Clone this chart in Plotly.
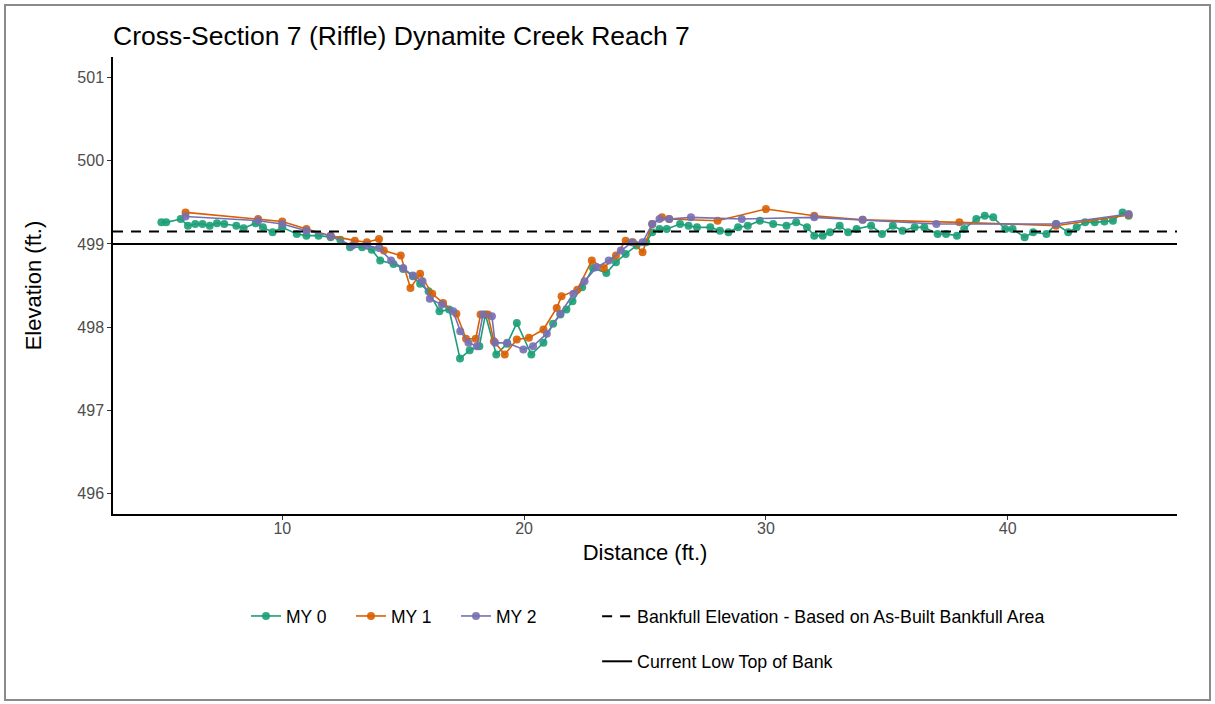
import plotly.graph_objects as go

# ---------------- data ----------------
my0_x = [5.0, 5.2, 5.8, 6.1, 6.4, 6.7, 7.0, 7.3, 7.6, 8.1, 8.4, 8.9, 9.2, 9.6, 10.0, 10.6,
         11.0, 11.5, 12.0, 12.4, 12.8, 13.3, 13.7, 14.05, 14.6, 15.0, 15.4, 15.7, 16.05, 16.5,
         16.9, 17.35, 17.75, 18.15, 18.4, 18.85, 19.3, 19.7, 20.3, 20.8, 21.2, 21.5, 21.75, 22.0,
         22.4, 22.85, 23.4, 23.8, 24.2, 24.65, 25.05, 25.3, 25.6, 25.9, 26.45, 26.8, 27.15, 27.7,
         28.1, 28.45, 28.85, 29.25, 29.75, 30.3, 30.85, 31.25, 31.7, 32.0, 32.35, 32.65, 33.05,
         33.4, 33.75, 34.35, 34.8, 35.25, 35.65, 36.15, 36.55, 37.1, 37.45, 37.9, 38.2, 38.7,
         39.05, 39.4, 39.9, 40.2, 40.7, 41.05, 41.6, 42.0, 42.5, 42.85, 43.2, 43.6, 44.0, 44.35,
         44.75, 45.0]
my0_y = [499.26, 499.26, 499.30, 499.22, 499.24, 499.24, 499.22, 499.25, 499.24, 499.22, 499.19,
         499.25, 499.20, 499.14, 499.20, 499.12, 499.10, 499.10, 499.08, 499.05, 498.96, 498.96,
         498.93, 498.80, 498.76, 498.70, 498.61, 498.52, 498.43, 498.19, 498.21, 497.62, 497.72,
         497.77, 498.15, 497.67, 497.80, 498.05, 497.67, 497.81, 498.04, 498.15, 498.21, 498.31,
         498.48, 498.71, 498.65, 498.78, 498.88, 498.98, 499.02, 499.14, 499.18, 499.18, 499.24,
         499.22, 499.20, 499.20, 499.16, 499.14, 499.20, 499.22, 499.28, 499.24, 499.22, 499.26,
         499.20, 499.10, 499.10, 499.14, 499.22, 499.14, 499.18, 499.22, 499.12, 499.22, 499.16,
         499.20, 499.20, 499.12, 499.12, 499.10, 499.18, 499.30, 499.34, 499.32, 499.18, 499.18,
         499.08, 499.14, 499.12, 499.24, 499.14, 499.20, 499.26, 499.26, 499.27, 499.28, 499.38,
         499.34]

my1_x = [6.0, 9.0, 10.0, 11.0, 12.0, 13.0, 13.5, 14.0, 14.2, 14.9, 15.3, 15.7, 16.2, 16.65,
         17.2, 17.6, 18.0, 18.2, 18.5, 18.75, 19.2, 19.7, 20.2, 20.8, 21.35, 21.55, 22.2, 22.8,
         23.3, 23.8, 24.2, 24.5, 24.9, 25.3, 25.7, 26.0, 28.0, 30.0, 32.0, 34.0, 38.0, 42.0, 45.0]
my1_y = [499.38, 499.30, 499.27, 499.18, 499.10, 499.04, 499.02, 499.06, 498.92, 498.86, 498.47,
         498.64, 498.40, 498.29, 498.16, 497.86, 497.86, 498.15, 498.15, 497.83, 497.67, 497.85,
         497.87, 497.97, 498.23, 498.37, 498.45, 498.80, 498.71, 498.86, 499.04, 499.02, 498.90,
         499.24, 499.32, 499.30, 499.28, 499.42, 499.34, 499.29, 499.26, 499.22, 499.35]

my2_x = [6.0, 9.0, 10.0, 11.0, 12.0, 12.9, 13.5, 14.0, 14.5, 15.0, 15.4, 15.8, 16.1, 16.6,
         17.07, 17.36, 17.7, 18.05, 18.3, 18.67, 18.8, 19.3, 19.97, 20.37, 20.94, 21.5, 22.04,
         22.5, 23.0, 23.5, 24.0, 24.45, 24.9, 25.3, 25.6, 26.0, 26.9, 29.0, 32.0, 34.0, 37.05,
         42.0, 45.0]
my2_y = [499.33, 499.28, 499.24, 499.16, 499.10, 498.98, 498.98, 498.95, 498.80, 498.71, 498.62,
         498.55, 498.34, 498.27, 498.19, 497.95, 497.81, 497.77, 498.15, 498.13, 497.81, 497.81,
         497.73, 497.77, 497.92, 498.16, 498.40, 498.55, 498.72, 498.80, 498.92, 499.02, 499.02,
         499.24, 499.30, 499.30, 499.32, 499.30, 499.32, 499.29, 499.24, 499.24, 499.36]

bankfull_elev = 499.15
low_top_bank = 499.0

series_names = ["MY 0", "MY 1", "MY 2"]
series_colors = ["#1B9E77", "#D95F02", "#7570B3"]

x_range = [3.0, 47.0]
y_range = [495.75, 501.25]
x_ticks = [10, 20, 30, 40]
y_ticks = [496, 497, 498, 499, 500, 501]

FONT = "Liberation Sans, Arial, Helvetica, sans-serif"

# ---------------- figure ----------------
fig = go.Figure()

for name, xs, ys, col in zip(series_names, [my0_x, my1_x, my2_x], [my0_y, my1_y, my2_y], series_colors):
    fig.add_trace(go.Scatter(
        x=xs, y=ys, name=name, mode="lines+markers",
        line=dict(color=col, width=1.6),
        marker=dict(color=col, size=8, opacity=0.9),
        legend="legend",
    ))

fig.add_trace(go.Scatter(
    x=x_range, y=[bankfull_elev, bankfull_elev], mode="lines",
    name="Bankfull Elevation - Based on As-Built Bankfull Area",
    line=dict(color="black", width=2, dash="10px,8px"),
    legend="legend2", legendgroup="bf", hoverinfo="skip",
))
fig.add_trace(go.Scatter(
    x=x_range, y=[low_top_bank, low_top_bank], mode="lines",
    name="Current Low Top of Bank",
    line=dict(color="black", width=2),
    legend="legend2", legendgroup="ltb", hoverinfo="skip",
))

axis_common = dict(
    showgrid=False, zeroline=False, showline=True, linecolor="black", linewidth=1.5,
    ticks="outside", ticklen=4, tickwidth=1.2, tickcolor="#333333",
    tickfont=dict(family=FONT, size=16, color="#4d4d4d"),
)

fig.update_layout(
    width=1215, height=704,
    paper_bgcolor="white", plot_bgcolor="white",
    margin=dict(l=113, r=38, t=57, b=190),
    font=dict(family=FONT),
    title=dict(text="Cross-Section 7 (Riffle) Dynamite Creek Reach 7",
               x=113 / 1215, xanchor="left", y=1 - 36 / 704, yanchor="middle",
               font=dict(family=FONT, size=26.5, color="black")),
    xaxis=dict(range=x_range, tickvals=x_ticks, ticklabelstandoff=-5, **axis_common,
               title=dict(text="Distance (ft.)", standoff=9,
                          font=dict(family=FONT, size=22, color="black"))),
    yaxis=dict(range=y_range, tickvals=y_ticks, **axis_common,
               title=dict(text="Elevation (ft.)", standoff=30,
                          font=dict(family=FONT, size=22, color="black"))),
    legend=dict(orientation="h", x=0.125, xanchor="left", y=-0.184, yanchor="top",
                font=dict(family=FONT, size=17.5, color="black"), bgcolor="rgba(0,0,0,0)",
                itemwidth=30, entrywidth=60),
    legend2=dict(orientation="v", x=0.455, xanchor="left", y=-0.184, yanchor="top",
                 font=dict(family=FONT, size=17.8, color="black"), bgcolor="rgba(0,0,0,0)",
                 tracegroupgap=19, itemwidth=30),
    showlegend=True,
    shapes=[dict(type="rect", xref="paper", yref="paper",
                 x0=(5 - 113) / 1064, x1=(1210 - 113) / 1064,
                 y0=(514 - 700) / 457, y1=(514 - 5) / 457,
                 line=dict(color="#8a8a8a", width=2), fillcolor="rgba(0,0,0,0)", layer="below")],
)

fig.write_html("out.html", config={"displayModeBar": False},
               post_script="document.body.style.margin='0px';")
